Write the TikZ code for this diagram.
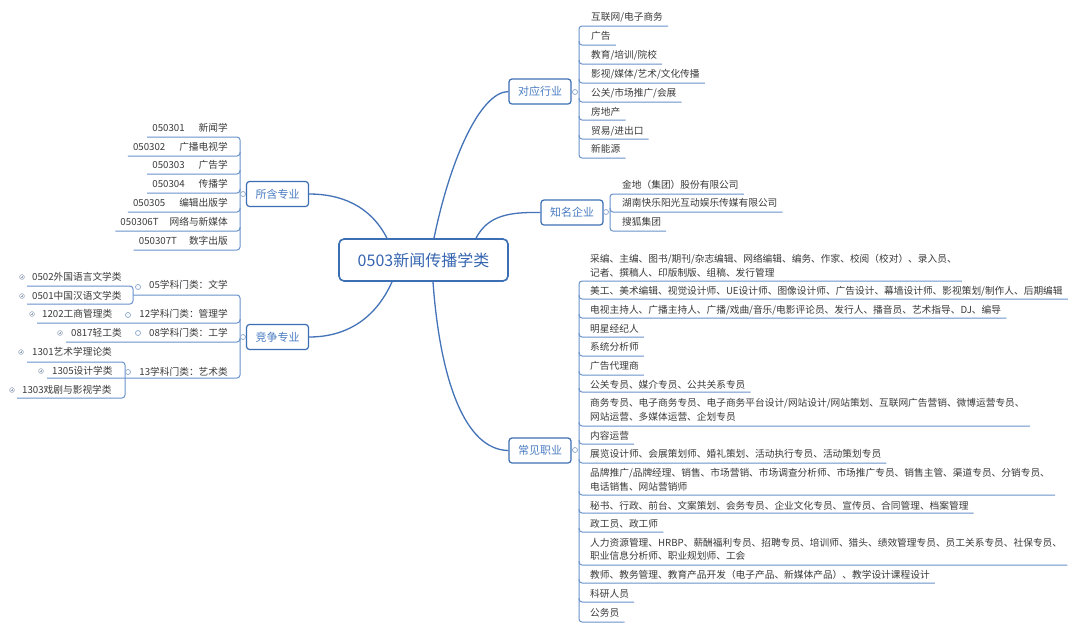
\documentclass[tikz,border=0pt]{standalone}
\usepackage{fontspec}
\setmainfont{Noto Sans CJK SC}
\definecolor{nodeblue}{HTML}{3C6EB4}
\definecolor{curveblue}{HTML}{4473B8}
\definecolor{ulblue}{HTML}{6B93CC}
\definecolor{txt}{HTML}{3A3A3A}
\definecolor{btxt}{HTML}{4A7CC2}
\definecolor{ctxt}{HTML}{3565B0}
\definecolor{circ}{HTML}{8AA6CC}
\definecolor{mkgray}{HTML}{9AA8BC}
\newcommand\ulR[3]{\draw[ul,rounded corners=3pt] (#1,#2-4) -- (#1,#2) -- (#3.east |- 0,#2);}
\newcommand\ulL[3]{\draw[ul,rounded corners=3pt] (#1,#2-4) -- (#1,#2) -- (#3.west |- 0,#2);}
\begin{document}
\begin{tikzpicture}[x=1pt,y=-1pt,
  centerbox/.style={draw=nodeblue,line width=1.6pt,rounded corners=5pt,fill=white,
    minimum width=169pt,minimum height=42pt,inner sep=0pt,
    font=\fontsize{16}{18}\selectfont,text=ctxt},
  branch/.style={draw=nodeblue,line width=1.2pt,rounded corners=3pt,fill=white,
    minimum width=62pt,minimum height=25pt,inner sep=0pt,
    font=\fontsize{11}{13}\selectfont,text=btxt},
  leaf/.style={font=\fontsize{9.7}{13.5}\selectfont,text=txt,inner xsep=5pt,inner ysep=0pt,
    text height=8.4pt,text depth=1pt,anchor=west},
  leafm/.style={font=\fontsize{9.7}{13.5}\selectfont,text=txt,inner xsep=5pt,inner ysep=0pt,
    align=left,anchor=west},
  curve/.style={draw=curveblue,line width=1.3pt},
  ul/.style={draw=ulblue,line width=1pt},
  colc/.pic={\draw[circ,fill=white,line width=0.7pt] (0,0) circle (2.5pt);},
  plusmk/.pic={\draw[mkgray,line width=0.6pt] (0,0) circle (2.4pt);
    \draw[mkgray,line width=0.6pt] (-1.2,0) -- (1.2,0) (0,-1.2) -- (0,1.2);}
]
\fill[white] (0,0) rectangle (1080,630);
\useasboundingbox (0,0) rectangle (1080,630);

% main nodes
\node[centerbox] (c) at (423.5,260) {0503新闻传播学类};
\node[branch] (b1) at (540,91.5) {对应行业};
\node[branch] (b2) at (572,212.5) {知名企业};
\node[branch] (b3) at (277.5,194) {所含专业};
\node[branch] (b4) at (277.5,337) {竞争专业};
\node[branch] (b5) at (540,450.5) {常见职业};

% curves
\draw[curve] ([xshift=10.5pt]c.north) .. controls (450,160) and (480,92) .. (b1.west);
\draw[curve] ([xshift=52.5pt]c.north) .. controls (488,215) and (510,212) .. (b2.west);
\draw[curve] ([xshift=-36.5pt]c.north) .. controls (370,205) and (340,194) .. (b3.east);
\draw[curve] ([xshift=-31.5pt]c.south) .. controls (375,320) and (345,337) .. (b4.east);
\draw[curve] ([xshift=9.5pt]c.south) .. controls (440,380) and (465,450) .. (b5.west);

% ---------- 对应行业 ----------
\node[leaf] (i1) at (586,17) {互联网/电子商务};
\node[leaf] (i2) at (586,36) {广告};
\node[leaf] (i3) at (586,55) {教育/培训/院校};
\node[leaf] (i4) at (586,74) {影视/媒体/艺术/文化传播};
\node[leaf] (i5) at (586,93) {公关/市场推广/会展};
\node[leaf] (i6) at (586,112) {房地产};
\node[leaf] (i7) at (586,131) {贸易/进出口};
\node[leaf] (i8) at (586,149) {新能源};
\draw[ul,rounded corners=3pt] (i1.east |- 0,26) -- (579,26) -- (579,158) -- (i8.east |- 0,158);
\ulR{579}{45}{i2}
\ulR{579}{64}{i3}
\ulR{579}{83}{i4}
\ulR{579}{102}{i5}
\ulR{579}{120}{i6}
\ulR{579}{139}{i7}
\pic at (575,92) {colc};

% ---------- 知名企业 ----------
\node[leaf] (j1) at (617,185) {金地（集团）股份有限公司};
\node[leaf] (j2) at (617,203) {湖南快乐阳光互动娱乐传媒有限公司};
\node[leaf] (j3) at (617,222) {搜狐集团};
\draw[ul,rounded corners=3pt] (j1.east |- 0,194) -- (610,194) -- (610,231) -- (j3.east |- 0,231);
\ulR{610}{212}{j2}
\pic at (606,212) {colc};

% ---------- 所含专业 ----------
\node[leaf,anchor=east] (s1) at (233,128) {050301\hspace{14pt}新闻学};
\node[leaf,anchor=east] (s2) at (233,147) {050302\hspace{14pt}广播电视学};
\node[leaf,anchor=east] (s3) at (233,165) {050303\hspace{14pt}广告学};
\node[leaf,anchor=east] (s4) at (233,184) {050304\hspace{14pt}传播学};
\node[leaf,anchor=east] (s5) at (233,203) {050305\hspace{14pt}编辑出版学};
\node[leaf,anchor=east] (s6) at (233,222) {050306T\hspace{11pt}网络与新媒体};
\node[leaf,anchor=east] (s7) at (233,241) {050307T\hspace{12pt}数字出版};
\draw[ul,rounded corners=3pt] (s1.west |- 0,137) -- (240,137) -- (240,250) -- (s7.west |- 0,250);
\ulL{240}{156}{s2}
\ulL{240}{174}{s3}
\ulL{240}{193}{s4}
\ulL{240}{212}{s5}
\ulL{240}{231}{s6}
\pic at (243,194) {colc};

% ---------- 竞争专业 ----------
\node[leaf,anchor=east] (k1) at (233,285) {05学科门类：文学};
\node[leaf,anchor=east] (k2) at (233,314) {12学科门类：管理学};
\node[leaf,anchor=east] (k3) at (233,333) {08学科门类：工学};
\node[leaf,anchor=east] (k4) at (233,372) {13学科门类：艺术类};
\node[leaf] (m1) at (27,277) {0502外国语言文学类};
\node[leaf] (m2) at (27,296) {0501中国汉语文学类};
\node[leaf] (m3) at (37,314) {1202工商管理类};
\node[leaf] (m4) at (66,333) {0817轻工类};
\node[leaf] (m5) at (27,352) {1301艺术学理论类};
\node[leaf] (m6) at (47,371) {1305设计学类};
\node[leaf] (m7) at (17,390) {1303戏剧与影视学类};
\draw[ul,rounded corners=3pt] (m1.west |- 0,286) -- (133,286) -- (133,304) -- (m2.west |- 0,304);
\draw[ul,rounded corners=3pt] (133,295) -- (240,295) -- (240,378) -- (m6.west |- 0,378);
\ulL{240}{323}{m3}
\ulL{240}{342}{m4}
\draw[ul,rounded corners=3pt] (m5.west |- 0,362) -- (125,362) -- (125,398) -- (m7.west |- 0,398);
\pic at (243,337) {colc};
\pic at (138,287) {colc};
\pic at (128,315) {colc};
\pic at (138,333) {colc};
\pic at (128,372) {colc};
\pic at (22,277) {plusmk};
\pic at (22,296) {plusmk};
\pic at (32,314) {plusmk};
\pic at (60,333) {plusmk};
\pic at (21,352) {plusmk};
\pic at (41,371) {plusmk};
\pic at (12,390) {plusmk};

% ---------- 常见职业 ----------
\node[leafm] (p1) at (585,266) {采编、主编、图书/期刊/杂志编辑、网络编辑、编务、作家、校阅（校对）、录入员、\\记者、撰稿人、印版制版、组稿、发行管理};
\node[leaf] (p2) at (585,291) {美工、美术编辑、视觉设计师、UE设计师、图像设计师、广告设计、幕墙设计师、影视策划/制作人、后期编辑};
\node[leaf] (p3) at (585,310) {电视主持人、广播主持人、广播/戏曲/音乐/电影评论员、发行人、播音员、艺术指导、DJ、编导};
\node[leaf] (p4) at (585,329) {明星经纪人};
\node[leaf] (p5) at (585,347) {系统分析师};
\node[leaf] (p6) at (585,366) {广告代理商};
\node[leaf] (p7) at (585,385) {公关专员、媒介专员、公共关系专员};
\node[leafm] (p8) at (585,410) {商务专员、电子商务专员、电子商务平台设计/网站设计/网站策划、互联网广告营销、微博运营专员、\\网站运营、多媒体运营、企划专员};
\node[leaf] (p9) at (585,436) {内容运营};
\node[leaf] (p10) at (585,454) {展览设计师、会展策划师、婚礼策划、活动执行专员、活动策划专员};
\node[leafm] (p11) at (585,480) {品牌推广/品牌经理、销售、市场营销、市场调查分析师、市场推广专员、销售主管、渠道专员、分销专员、\\电话销售、网站营销师};
\node[leaf] (p12) at (585,506) {秘书、行政、前台、文案策划、会务专员、企业文化专员、宣传员、合同管理、档案管理};
\node[leaf] (p13) at (585,524) {政工员、政工师};
\node[leafm] (p14) at (585,549.5) {人力资源管理、HRBP、薪酬福利专员、招聘专员、培训师、猎头、绩效管理专员、员工关系专员、社保专员、\\职业信息分析师、职业规划师、工会};
\node[leaf] (p15) at (585,575) {教师、教务管理、教育产品开发（电子产品、新媒体产品）、教学设计课程设计};
\node[leaf] (p16) at (585,594) {科研人员};
\node[leaf] (p17) at (585,613) {公务员};
\draw[ul,rounded corners=3pt] (p1.east |- 0,281) -- (579,281) -- (579,622) -- (p17.east |- 0,622);
\ulR{579}{299}{p2}
\ulR{579}{318}{p3}
\ulR{579}{337}{p4}
\ulR{579}{356}{p5}
\ulR{579}{375}{p6}
\ulR{579}{392}{p7}
\ulR{579}{426}{p8}
\ulR{579}{444}{p9}
\ulR{579}{463}{p10}
\ulR{579}{495}{p11}
\ulR{579}{513}{p12}
\ulR{579}{532}{p13}
\ulR{579}{565}{p14}
\ulR{579}{583}{p15}
\ulR{579}{602}{p16}
\pic at (575,450) {colc};
\end{tikzpicture}
\end{document}
